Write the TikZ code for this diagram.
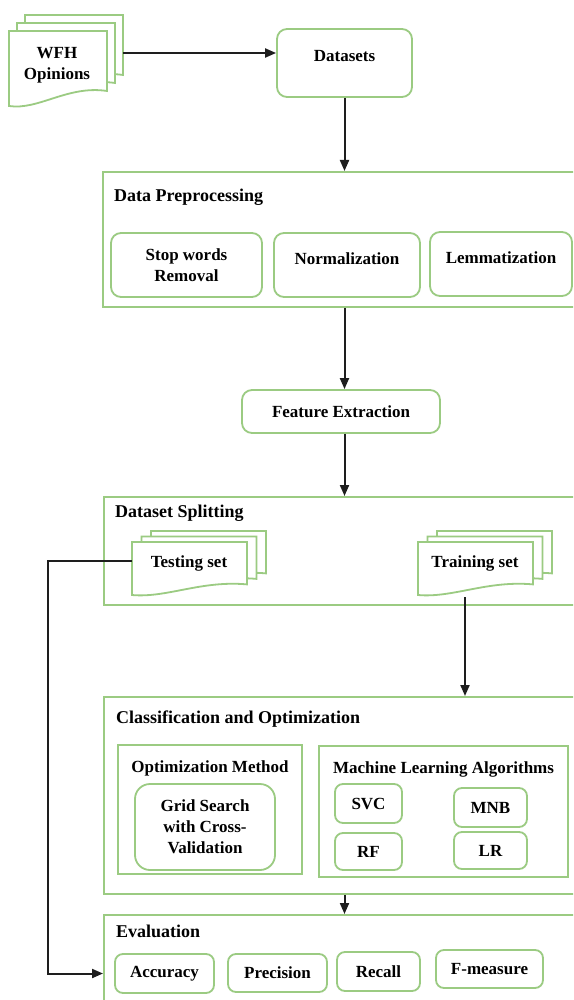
\documentclass[tikz,border=0pt]{standalone}
\usepackage{fontspec}
\setmainfont{Liberation Serif}
\usepackage{tikz}
\usetikzlibrary{positioning,calc,arrows.meta}
\definecolor{boxgreen}{RGB}{155,203,130}
\definecolor{linegray}{RGB}{30,30,30}

% one page of a document stack: left, top, width, height
\newcommand{\docpage}[4]{%
  \filldraw[docline] (#1,#2) -- (#1+#3,#2) -- (#1+#3,#2+0.8*#4)
    .. controls (#1+0.6*#3,#2+0.72*#4) and (#1+0.3*#3,#2+1.06*#4) .. (#1,#2+#4) -- cycle;}
% three pages: left, top, width, height, dx, dy
\newcommand{\docstack}[6]{%
  \docpage{#1+2*#5}{#2-2*#6}{#3}{#4}
  \docpage{#1+#5}{#2-#6}{#3}{#4}
  \docpage{#1}{#2}{#3}{#4}}

\begin{document}
\begin{tikzpicture}[x=1pt, y=-1pt,
    docline/.style={draw=boxgreen, line width=1.8pt, fill=white},
    box/.style={rectangle, rounded corners=10pt, draw=boxgreen, line width=1.8pt, fill=white, align=center, inner sep=2pt, font=\fontsize{17}{21}\selectfont\bfseries},
    bigbox/.style={rectangle, draw=boxgreen, line width=1.8pt, fill=white, anchor=north west, minimum width=489pt},
    subframe/.style={rectangle, draw=boxgreen, line width=1.8pt, fill=white},
    title/.style={anchor=west, inner sep=0pt, font=\fontsize{18}{21}\selectfont\bfseries},
    label/.style={align=center, inner sep=0pt, font=\fontsize{17}{21}\selectfont\bfseries},
    arrow/.style={-{Triangle[length=11pt,width=9pt]}, draw=linegray, line width=2pt}
]
\useasboundingbox (0,0) rectangle (573,1000);
\clip (0,0) rectangle (573,1000);

% Input documents
\docstack{9}{31}{98}{75}{8}{8}
\node[label] (wfh) at (57,65) {WFH\\Opinions};
\coordinate (wfh-out) at (123,53);

% Components
\node[box, minimum width=135pt, minimum height=68pt, text depth=14pt] (datasets) at (344.5,63) {Datasets};

\node[bigbox, minimum height=135pt] (prep) at (102,171) {};
\node[title] (prep-title) at (114,197) {Data Preprocessing};
\node[box, minimum width=151pt, minimum height=64pt] (stopwords) at (186.5,265) {Stop words\\Removal};
\node[box, minimum width=146pt, minimum height=64pt, text depth=12pt] (normal) at (347,265) {Normalization};
\node[box, minimum width=142pt, minimum height=64pt, text depth=12pt] (lemma) at (501,264) {Lemmatization};

\node[box, minimum width=198pt, minimum height=43pt] (feature) at (341,411.5) {Feature Extraction};

\node[bigbox, minimum height=108pt] (split) at (103,496) {};
\node[title] (split-title) at (115,513) {Dataset Splitting};
\docstack{132}{542}{115}{53}{9.5}{5.5}
\node[label] (testing) at (189,563) {Testing set};
\coordinate (test-out) at (132,561);
\docstack{418}{542}{115}{53}{9.5}{5.5}
\node[label] (training) at (475,563) {Training set};
\coordinate (train-out) at (465,597);

\node[bigbox, minimum height=197pt] (classif) at (103,696) {};
\node[title] (classif-title) at (116,719) {Classification and Optimization};
\node[subframe, minimum width=184pt, minimum height=129pt] (optframe) at (210,809.5) {};
\node[label] (opt-title) at (210,768) {Optimization Method};
\node[box, rounded corners=15pt, minimum width=140pt, minimum height=86pt] (grid) at (205,827) {Grid Search\\with Cross-\\Validation};
\node[subframe, minimum width=249pt, minimum height=131pt] (mlframe) at (443.5,811.5) {};
\node[label] (ml-title) at (443.5,769) {Machine Learning Algorithms};
\node[box, rounded corners=8pt, minimum width=67pt, minimum height=39pt] (svc) at (368.5,803.5) {SVC};
\node[box, rounded corners=8pt, minimum width=73pt, minimum height=39pt] (mnb) at (490.5,807.5) {MNB};
\node[box, rounded corners=8pt, minimum width=67pt, minimum height=37pt] (rf) at (368.5,851.5) {RF};
\node[box, rounded corners=8pt, minimum width=73pt, minimum height=37pt] (lr) at (490.5,850.5) {LR};

\node[bigbox, minimum height=100pt] (eval) at (103,914) {};
\node[title] (eval-title) at (116,931) {Evaluation};
\node[box, rounded corners=8pt, minimum width=99pt, minimum height=39pt] (accuracy) at (164.5,973.5) {Accuracy};
\node[box, rounded corners=8pt, minimum width=99pt, minimum height=38pt] (precision) at (277.5,973) {Precision};
\node[box, rounded corners=8pt, minimum width=83pt, minimum height=39pt] (recall) at (378.5,971.5) {Recall};
\node[box, rounded corners=8pt, minimum width=107pt, minimum height=38pt] (fmeasure) at (489.5,969) {F-measure};

% Arrows
\draw[arrow] (wfh-out) -- (wfh-out -| datasets.west);
\draw[arrow] (datasets.south) -- (datasets.south |- prep.north);
\draw[arrow] (prep.south -| datasets.south) -- (feature.north -| datasets.south);
\draw[arrow] (feature.south -| datasets.south) -- (split.north -| datasets.south);
\draw[arrow] (train-out) -- (train-out |- classif.north);
\draw[arrow] (classif.south -| datasets.south) -- (eval.north -| datasets.south);
\draw[arrow] (test-out) -- ++(-84,0) |- (eval.west |- accuracy);

\end{tikzpicture}
\end{document}
